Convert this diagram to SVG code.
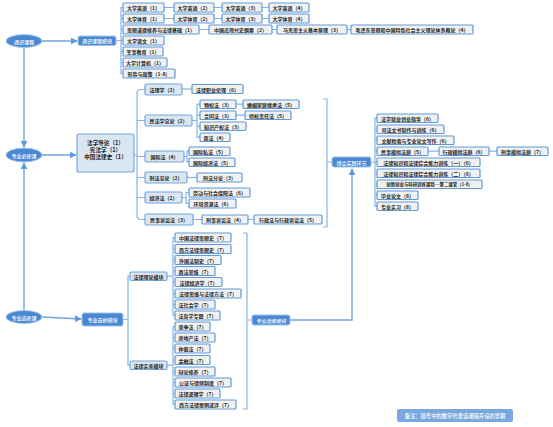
<svg xmlns="http://www.w3.org/2000/svg" width="553" height="427" viewBox="0 0 553 427">
<style>
.lk{fill:none;stroke:#85b4e4;stroke-width:1.2}
.lk2{fill:none;stroke:#6fa6e0;stroke-width:1.4}
.leaf{fill:#f1f1f1;stroke:#5f9ad8;stroke-width:1.2}
.sub{fill:#dbe6f3;stroke:#74a6dc;stroke-width:1.2}
.main{fill:#4a88d2;stroke:#9cc2ec;stroke-width:1}
.ell{fill:#4a88d2;stroke:#a8c8ee;stroke-width:1}
text{font-family:"Noto Sans CJK SC","Noto Sans",sans-serif;font-size:5px;fill:#222;text-anchor:middle;dominant-baseline:central;font-weight:600}
.w{fill:#fff;font-weight:500}
.big{font-size:5.6px}
.sm{font-size:4.4px}
</style>
<defs>
<marker id="ar" viewBox="0 0 10 10" refX="9" refY="5" markerWidth="5" markerHeight="5" orient="auto">
<path d="M0,0 L10,5 L0,10 z" fill="#5e9ade"/>
</marker>
</defs>
<rect width="553" height="427" fill="#fff"/>
<g id="connectors">
<path class="lk2" d="M24,47.5 V147" marker-end="url(#ar)"/>
<path class="lk2" d="M24,310.5 V163" marker-end="url(#ar)"/>
<path class="lk2" d="M42,41 H77" marker-end="url(#ar)"/>
<path class="lk2" d="M42,155 H76" marker-end="url(#ar)"/>
<path class="lk2" d="M42,317 L81,319" marker-end="url(#ar)"/>
<path class="lk2" d="M290,320 H352 V169" marker-end="url(#ar)"/>
<!-- top bracket -->
<path class="lk" d="M116,40.5 H121 M123,7.5 H121 V73.5 H123 M121,18.5 H123 M121,29.5 H123 M121,40.5 H123 M121,51.5 H123 M121,62.5 H123"/>
<path class="lk" d="M164,7.5 H174 M214,7.5 H222 M262,7.5 H269 M164,18.5 H174 M214,18.5 H222 M262,18.5 H269 M199,29.5 H209 M272,29.5 H277 M347,29.5 H351"/>
<!-- middle main bracket -->
<path class="lk" d="M134,155 H137 M145,89.5 H141 Q137,89.5 137,93.5 V215.5 Q137,219.5 141,219.5 H145 M137,120.5 H145 M137,156.5 H145 M137,177.5 H145 M137,197.5 H145"/>
<path class="lk" d="M182,89 H192"/>
<path class="lk" d="M192,120.5 H197 M200,104.2 H197 V137.2 H200 M197,115.2 H200 M197,126.2 H200 M236,104.2 H243 M236,115.2 H245"/>
<path class="lk" d="M184,156.5 H187 M189,151.2 H187 V162.2 H189"/>
<path class="lk" d="M187,177.5 H197"/>
<path class="lk" d="M182,197.5 H186 M189,192.5 H186 V203.5 H189"/>
<path class="lk" d="M193,219.5 H202 M248,219.5 H254"/>
<!-- right bracket of required -->
<path class="lk" d="M323,99 H327 V227 H323 M327,162 H332"/>
<!-- practice bracket -->
<path class="lk" d="M371,162 H375 M377,118.2 H375 V206.2 H377 M375,129.2 H377 M375,140.2 H377 M375,151.2 H377 M375,162.2 H377 M375,173.2 H377 M375,184.2 H377 M375,195.2 H377 M428,151.2 H439 M489,151.2 H497"/>
<!-- elective bracket -->
<path class="lk" d="M123,319.5 H128 M130,276.2 H128 V365.2 H130"/>
<path class="lk" d="M167,276.2 H173 M175,237.5 H173 V315.5 H175 M173,249 H175 M173,260 H175 M173,271 H175 M173,282 H175 M173,293.5 H175 M173,304.5 H175"/>
<path class="lk" d="M167,365.2 H173 M175,326.5 H173 V404.5 H175 M173,337.5 H175 M173,348.5 H175 M173,360 H175 M173,371.5 H175 M173,382.5 H175 M173,393.5 H175"/>
<path class="lk" d="M243,233 H247 V409 H243 M247,320 H252"/>
</g>
<g id="n-tongshi"><ellipse class="ell" cx="24" cy="41" rx="18" ry="6.5"/><text class="w" x="24" y="41">通识课程</text></g>
<g id="n-tsmk"><rect class="main" x="78" y="36" width="38" height="9.5" rx="2"/><text class="w" x="97" y="40.8">通识课程模块</text></g>
<g id="n-en1"><rect class="leaf" x="123" y="3" width="41" height="9" rx="1"/><text x="143.5" y="7.5">大学英语（1）</text></g>
<g id="n-en2"><rect class="leaf" x="174" y="3" width="40" height="9" rx="1"/><text x="194" y="7.5">大学英语（2）</text></g>
<g id="n-en3"><rect class="leaf" x="222" y="3" width="40" height="9" rx="1"/><text x="242" y="7.5">大学英语（3）</text></g>
<g id="n-en4"><rect class="leaf" x="269" y="3" width="40" height="9" rx="1"/><text x="289" y="7.5">大学英语（4）</text></g>
<g id="n-pe1"><rect class="leaf" x="123" y="14" width="41" height="9" rx="1"/><text x="143.5" y="18.5">大学体育（1）</text></g>
<g id="n-pe2"><rect class="leaf" x="174" y="14" width="40" height="9" rx="1"/><text x="194" y="18.5">大学体育（2）</text></g>
<g id="n-pe3"><rect class="leaf" x="222" y="14" width="40" height="9" rx="1"/><text x="242" y="18.5">大学体育（3）</text></g>
<g id="n-pe4"><rect class="leaf" x="269" y="14" width="40" height="9" rx="1"/><text x="289" y="18.5">大学体育（4）</text></g>
<g id="n-sx"><rect class="leaf" x="123" y="25" width="76" height="9" rx="1"/><text x="161" y="29.5">思想道德修养与法律基础（1）</text></g>
<g id="n-jds"><rect class="leaf" x="209" y="25" width="63" height="9" rx="1"/><text x="240.5" y="29.5">中国近现代史纲要（2）</text></g>
<g id="n-mk"><rect class="leaf" x="277" y="25" width="70" height="9" rx="1"/><text x="312" y="29.5">马克思主义基本原理（3）</text></g>
<g id="n-mao"><rect class="leaf" x="351" y="25" width="122" height="9" rx="1"/><text x="412" y="29.5">毛泽东思想和中国特色社会主义理论体系概论（4）</text></g>
<g id="n-yw"><rect class="leaf" x="123" y="36" width="41" height="9" rx="1"/><text x="143.5" y="40.5">大学语文（1）</text></g>
<g id="n-js"><rect class="leaf" x="123" y="47" width="40" height="9" rx="1"/><text x="143" y="51.5">军事教育（1）</text></g>
<g id="n-jsj"><rect class="leaf" x="123" y="58" width="44" height="9" rx="1"/><text x="145" y="62.5">大学计算机（1）</text></g>
<g id="n-xs"><rect class="leaf" x="123" y="69" width="52" height="9" rx="1"/><text x="149" y="73.5">形势与政策（1-8）</text></g>

<g id="n-bixiu"><ellipse class="ell" cx="24" cy="155" rx="18" ry="7"/><text class="w" x="24" y="155">专业必修课</text></g>
<g id="n-core"><rect class="sub" x="77" y="134" width="57" height="38" rx="2"/><text class="big" x="105.5" y="143.3">法学导论（1）</text><text class="big" x="105.5" y="150.3">宪法学（1）</text><text class="big" x="105.5" y="157.3">中国法律史（1）</text></g>
<g id="n-fl"><rect class="sub" x="145" y="84" width="37" height="11" rx="1.5"/><text x="163.5" y="89.5">法理学（2）</text></g>
<g id="n-zyll"><rect class="leaf" x="192" y="84.5" width="51" height="9" rx="1"/><text x="217.5" y="89">法律职业伦理（6）</text></g>
<g id="n-mf"><rect class="sub" x="145" y="115" width="47" height="11" rx="1.5"/><text x="168.5" y="120.5">民法学总论（2）</text></g>
<g id="n-wq"><rect class="leaf" x="200" y="100" width="36" height="8.5" rx="1"/><text x="218" y="104.2">物权法（3）</text></g>
<g id="n-hy"><rect class="leaf" x="243" y="100" width="56" height="8.5" rx="1"/><text x="271" y="104.2">婚姻家庭继承法（5）</text></g>
<g id="n-ht"><rect class="leaf" x="200" y="111" width="36" height="8.5" rx="1"/><text x="218" y="115.2">合同法（3）</text></g>
<g id="n-qq"><rect class="leaf" x="245" y="111" width="46" height="8.5" rx="1"/><text x="268" y="115.2">侵权责任法（5）</text></g>
<g id="n-zs"><rect class="leaf" x="200" y="122" width="46" height="8.5" rx="1"/><text x="223" y="126.2">知识产权法（3）</text></g>
<g id="n-sf"><rect class="leaf" x="200" y="133" width="30" height="8.5" rx="1"/><text x="215" y="137.2">商法（4）</text></g>
<g id="n-gj"><rect class="sub" x="145" y="151" width="39" height="11" rx="1.5"/><text x="164.5" y="156.5">国际法（4）</text></g>
<g id="n-gs"><rect class="leaf" x="189" y="147" width="41" height="8.5" rx="1"/><text x="209.5" y="151.2">国际私法（5）</text></g>
<g id="n-gjj"><rect class="leaf" x="189" y="158" width="46" height="8.5" rx="1"/><text x="212" y="162.2">国际经济法（5）</text></g>
<g id="n-xz"><rect class="sub" x="145" y="172" width="42" height="11" rx="1.5"/><text x="166" y="177.5">刑法总论（2）</text></g>
<g id="n-xf"><rect class="leaf" x="197" y="173" width="45" height="9" rx="1"/><text x="219.5" y="177.5">刑法分论（3）</text></g>
<g id="n-jj"><rect class="sub" x="145" y="192" width="37" height="11" rx="1.5"/><text x="163.5" y="197.5">经济法（2）</text></g>
<g id="n-ld"><rect class="leaf" x="189" y="188" width="61" height="9" rx="1"/><text x="219.5" y="192.5">劳动与社会保障法（6）</text></g>
<g id="n-hj"><rect class="leaf" x="189" y="199" width="47" height="9" rx="1"/><text x="212.5" y="203.5">环境资源法（6）</text></g>
<g id="n-ms"><rect class="sub" x="145" y="214" width="48" height="11" rx="1.5"/><text x="169" y="219.5">民事诉讼法（3）</text></g>
<g id="n-xss"><rect class="leaf" x="202" y="215" width="46" height="9" rx="1"/><text x="225" y="219.5">刑事诉讼法（4）</text></g>
<g id="n-xzs"><rect class="leaf" x="254" y="215" width="68" height="9" rx="1"/><text x="288" y="219.5">行政法与行政诉讼法（5）</text></g>

<g id="n-zhsj"><rect class="main" x="332" y="157" width="39" height="10" rx="2"/><text class="w" x="351.5" y="162">综合实践环节</text></g>
<g id="n-jy"><rect class="leaf" x="377" y="114" width="61" height="8.5" rx="1"/><text x="407.5" y="118.2">法学就业创业指导（6）</text></g>
<g id="n-ws"><rect class="leaf" x="377" y="125" width="67" height="8.5" rx="1"/><text x="410.5" y="129.2">司法文书制作与训练（6）</text></g>
<g id="n-wx"><rect class="leaf" x="377" y="136" width="77" height="8.5" rx="1"/><text x="415.5" y="140.2">文献检索与专业论文写作（6）</text></g>
<g id="n-msmn"><rect class="leaf" x="377" y="147" width="51" height="8.5" rx="1"/><text x="402.5" y="151.2">民事模拟法庭（5）</text></g>
<g id="n-xzmn"><rect class="leaf" x="439" y="147" width="50" height="8.5" rx="1"/><text x="464" y="151.2">行政模拟法庭（6）</text></g>
<g id="n-xsmn"><rect class="leaf" x="497" y="147" width="51" height="8.5" rx="1"/><text x="522.5" y="151.2">刑事模拟法庭（7）</text></g>
<g id="n-nl1"><rect class="leaf" x="377" y="158" width="103" height="8.5" rx="1"/><text x="428.5" y="162.2">法律知识和法律综合能力训练（一）（6）</text></g>
<g id="n-nl2"><rect class="leaf" x="377" y="169" width="103" height="8.5" rx="1"/><text x="428.5" y="173.2">法律知识和法律综合能力训练（二）（6）</text></g>
<g id="n-cx"><rect class="leaf" x="377" y="180" width="105" height="8.5" rx="1"/><text class="sm" x="429.5" y="184.2">创新创业与科研训练课程---第二课堂（1-8）</text></g>
<g id="n-bl"><rect class="leaf" x="377" y="191" width="41" height="8.5" rx="1"/><text x="397.5" y="195.2">毕业论文（8）</text></g>
<g id="n-sx2"><rect class="leaf" x="377" y="202" width="41" height="8.5" rx="1"/><text x="397.5" y="206.2">专业实习（8）</text></g>

<g id="n-xuanxiu"><ellipse class="ell" cx="24" cy="317" rx="18" ry="6.5"/><text class="w" x="24" y="317">专业选修课</text></g>
<g id="n-xxmk"><rect class="main" x="82" y="313" width="41" height="13" rx="2"/><text class="w" x="102.5" y="319.5">专业选修模块</text></g>
<g id="n-llmk"><rect class="sub" x="130" y="272" width="37" height="8.5" rx="1.5"/><text x="148.5" y="276.2">法律理论模块</text></g>
<g id="n-swmk"><rect class="sub" x="130" y="361" width="37" height="8.5" rx="1.5"/><text x="148.5" y="365.2">法律实务模块</text></g>
<g id="n-e1"><rect class="leaf" x="175" y="233" width="56" height="9" rx="1"/><text x="203" y="237.5">中国法律思想史（7）</text></g>
<g id="n-e2"><rect class="leaf" x="175" y="244.5" width="56" height="9" rx="1"/><text x="203" y="249">西方法律思想史（7）</text></g>
<g id="n-e3"><rect class="leaf" x="175" y="255.5" width="46" height="9" rx="1"/><text x="198" y="260">外国法制史（7）</text></g>
<g id="n-e4"><rect class="leaf" x="175" y="266.5" width="40" height="9" rx="1"/><text x="195" y="271">商法思维（7）</text></g>
<g id="n-e5"><rect class="leaf" x="175" y="277.5" width="47" height="9" rx="1"/><text x="198.5" y="282">法律经济学（7）</text></g>
<g id="n-e6"><rect class="leaf" x="175" y="289" width="66" height="9" rx="1"/><text x="208" y="293.5">法律思维与法律方法（7）</text></g>
<g id="n-e7"><rect class="leaf" x="175" y="300" width="40" height="9" rx="1"/><text x="195" y="304.5">法社会学（7）</text></g>
<g id="n-e8"><rect class="leaf" x="175" y="311" width="45" height="9" rx="1"/><text x="197.5" y="315.5">法哲学专题（7）</text></g>
<g id="n-p1"><rect class="leaf" x="175" y="322" width="35" height="9" rx="1"/><text x="192.5" y="326.5">竞争法（7）</text></g>
<g id="n-p2"><rect class="leaf" x="175" y="333" width="40" height="9" rx="1"/><text x="195" y="337.5">房地产法（7）</text></g>
<g id="n-p3"><rect class="leaf" x="175" y="344" width="35" height="9" rx="1"/><text x="192.5" y="348.5">仲裁法（7）</text></g>
<g id="n-p4"><rect class="leaf" x="175" y="355.5" width="35" height="9" rx="1"/><text x="192.5" y="360">金融法（7）</text></g>
<g id="n-p5"><rect class="leaf" x="175" y="367" width="40" height="9" rx="1"/><text x="195" y="371.5">辩论修养（7）</text></g>
<g id="n-p6"><rect class="leaf" x="175" y="378" width="56" height="9" rx="1"/><text x="203" y="382.5">公证与律师制度（7）</text></g>
<g id="n-p7"><rect class="leaf" x="175" y="389" width="45" height="9" rx="1"/><text x="197.5" y="393.5">法律逻辑学（7）</text></g>
<g id="n-p8"><rect class="leaf" x="175" y="400" width="61" height="9" rx="1"/><text x="205.5" y="404.5">西方法律案例述评（7）</text></g>
<g id="n-xxmk2"><rect class="main" x="252" y="315" width="38" height="10" rx="2"/><text class="w" x="271" y="320" font-style="italic">专业选修模块</text></g>
<g id="n-note"><rect x="397" y="409" width="116" height="13" rx="2.5" fill="#78a8de"/><text class="w" x="455" y="415.5" style="font-size:5.3px">备注：括号中的数字代表该课程开设的学期</text></g>
</svg>
